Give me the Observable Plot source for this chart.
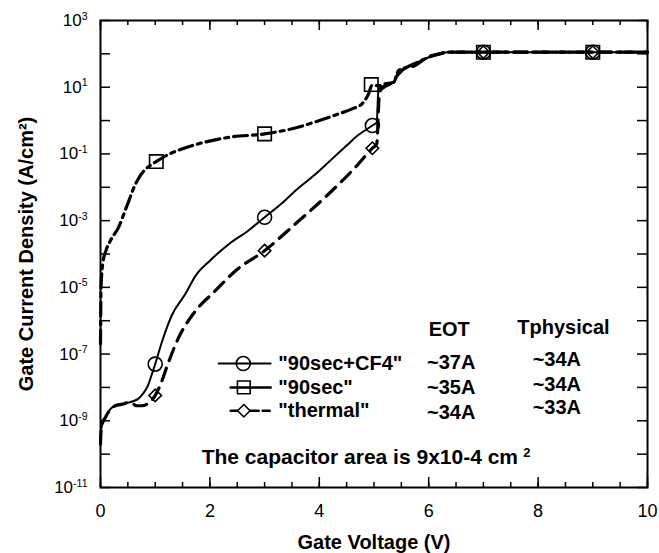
<!DOCTYPE html>
<html><head><meta charset="utf-8">
<script src="https://cdn.jsdelivr.net/npm/d3@7"></script>
<script src="https://cdn.jsdelivr.net/npm/@observablehq/plot@0.6"></script>
<style>
body{margin:0;background:#fff;}
#chart svg{display:block;}
</style></head><body><div id="chart"></div>
<script>
// ---------------- DATA ----------------
const cf4V = [0, 0.01, 0.04, 0.09, 0.18, 0.27, 0.4, 0.52, 0.62, 0.7, 0.78, 0.86, 0.93, 1.0, 1.13, 1.3, 1.55, 1.74, 2.0, 2.35, 2.7, 3.0, 3.3, 3.6, 3.9, 4.2, 4.5, 4.7, 4.97, 5.05, 5.08, 5.12, 5.2, 5.36, 5.45, 5.6, 5.8, 6.0, 6.2, 6.34, 10];
const cf4J = [2.0e-10, 5.0e-10, 8.9e-10, 1.26e-9, 2.24e-9, 2.82e-9, 3.16e-9, 3.55e-9, 3.98e-9, 4.7e-9, 6.6e-9, 1.07e-8, 2.24e-8, 5.0e-8, 2.5e-7, 1.41e-6, 6.3e-6, 2.24e-5, 6.3e-5, 2.0e-4, 5.0e-4, 1.26e-3, 3.16e-3, 8.9e-3, 2.24e-2, 6.3e-2, 0.178, 0.355, 0.71, 0.89, 7.9, 10, 11.2, 14.1, 28, 40, 56, 79, 100, 112, 112];

const sec90V = [0, 0.01, 0.04, 0.1, 0.18, 0.33, 0.45, 0.52, 0.6, 0.7, 0.8, 0.9, 1.02, 1.2, 1.49, 1.9, 2.35, 3.0, 3.56, 4.0, 4.3, 4.6, 4.78, 4.9, 4.96, 5.1, 5.2, 5.36, 5.45, 5.6, 5.8, 6.0, 6.2, 6.34, 10];
const sec90J = [2.0e-7, 1.0e-5, 5.0e-5, 1.26e-4, 2.5e-4, 6.3e-4, 2.0e-3, 4.0e-3, 8.9e-3, 1.9e-2, 3.2e-2, 4.4e-2, 5.9e-2, 8.9e-2, 0.141, 0.224, 0.316, 0.398, 0.60, 1.0, 1.48, 2.24, 3.16, 6.3, 11.2, 11.2, 12.6, 14.1, 31.6, 39.8, 56, 79, 100, 112, 112];

const thermalV = [0, 0.01, 0.04, 0.09, 0.18, 0.27, 0.4, 0.52, 0.6, 0.66, 0.76, 0.85, 0.93, 1.0, 1.1, 1.22, 1.43, 1.74, 2.07, 2.47, 3.0, 3.56, 4.17, 4.66, 4.97, 5.05, 5.1, 5.18, 5.3, 5.4, 5.55, 5.75, 5.97, 6.2, 6.34, 10];
const thermalJ = [2.0e-10, 5.0e-10, 8.9e-10, 1.26e-9, 2.24e-9, 2.82e-9, 3.16e-9, 3.55e-9, 3.16e-9, 2.82e-9, 2.82e-9, 3.16e-9, 3.98e-9, 5.75e-9, 1.26e-8, 4.47e-8, 3.16e-7, 2.0e-6, 7.1e-6, 3.16e-5, 1.26e-4, 7.9e-4, 6.3e-3, 3.98e-2, 0.148, 0.20, 7.1, 10, 12.6, 20, 35.5, 44.7, 79, 100, 112, 112];

const cf4MarkV = [1.0, 3.0, 4.97, 7, 9];
const cf4MarkJ = [5.0e-8, 1.26e-3, 0.71, 112, 112];
const sec90MarkV = [1.02, 3.0, 4.95, 7, 9];
const sec90MarkJ = [5.9e-2, 0.40, 12, 112, 112];
const thermalMarkV = [1.0, 3.0, 4.97, 7, 9];
const thermalMarkJ = [5.75e-9, 1.26e-4, 0.148, 112, 112];

const seriesNames = ['"90sec+CF4"', '"90sec"', '"thermal"'];
const eotLabels = ["~37A", "~35A", "~34A"];
const tphysLabels = ["~34A", "~34A", "~33A"];
const eotHeader = "EOT";
const tphysHeader = "Tphysical";
const areaNote = "The capacitor area is 9x10-4 cm";
const areaNoteSup = "2";

const xMajorTicks = [0, 2, 4, 6, 8, 10];
const xMinorTicks = [0, 0.5, 1, 1.5, 2, 2.5, 3, 3.5, 4, 4.5, 5, 5.5, 6, 6.5, 7, 7.5, 8, 8.5, 9, 9.5, 10];
const yTicks = [1e3, 1e2, 1e1, 1e0, 1e-1, 1e-2, 1e-3, 1e-4, 1e-5, 1e-6, 1e-7, 1e-8, 1e-9, 1e-10, 1e-11];
const yLabelTicks = [1e3, 1e1, 1e-1, 1e-3, 1e-5, 1e-7, 1e-9, 1e-11];
const yExponents = ["3", "1", "-1", "-3", "-5", "-7", "-9", "-11"];

const xTitle = "Gate Voltage (V)";
const yTitle = "Gate Current Density (A/cm\u00B2)";

// ---------------- BUILD ----------------
const rows = (V, J) => V.map((v, i) => ({V: v, J: J[i]}));
const W = 659, H = 553, mL = 100, mR = 12, mT = 20, mB = 66;
const innerW = W - mL - mR, innerH = H - mT - mB;
const font = "'Liberation Sans', Arial, Helvetica, sans-serif";

// legend / annotation layout (in data coordinates)
const legRowJ = [5.2e-8, 1.0e-8, 2.0e-9];
const legLine = [
  [{V: 2.16, J: legRowJ[0]}, {V: 3.11, J: legRowJ[0]}],
  [{V: 2.38, J: legRowJ[1]}, {V: 3.11, J: legRowJ[1]}],
  [{V: 2.38, J: legRowJ[2]}, {V: 3.11, J: legRowJ[2]}]
];
const legText = seriesNames.map((s, i) => ({V: 3.25, J: legRowJ[i], t: s}));
const eotText = [{V: 6.0, J: 5.6e-7, t: eotHeader}, ...eotLabels.map((s, i) => ({V: 5.97, J: [5.7e-8, 1.02e-8, 1.82e-9][i], t: s}))];
const tphText = [{V: 7.62, J: 6.4e-7, t: tphysHeader}, ...tphysLabels.map((s, i) => ({V: 7.9, J: [7.0e-8, 1.25e-8, 2.55e-9][i], t: s}))];

const bold = {fontWeight: "bold", fontSize: 20, fill: "black"};

const plot = Plot.plot({
  width: W, height: H,
  marginLeft: mL, marginRight: mR, marginTop: mT, marginBottom: mB,
  style: {fontFamily: font, background: "white", color: "black", overflow: "visible"},
  x: {domain: [0, 10]},
  y: {type: "log", domain: [1e-11, 1e3]},
  marks: [
    // inward ticks
    Plot.ruleX(xMinorTicks, {x: d => d, insetTop: innerH - 5, stroke: "black", strokeWidth: 1.5}),
    Plot.ruleX(xMajorTicks, {x: d => d, insetTop: innerH - 10, stroke: "black", strokeWidth: 1.5}),
    Plot.ruleX(xMinorTicks, {x: d => d, insetBottom: innerH - 5, stroke: "black", strokeWidth: 1.5}),
    Plot.ruleX(xMajorTicks, {x: d => d, insetBottom: innerH - 10, stroke: "black", strokeWidth: 1.5}),
    Plot.ruleY(yTicks, {y: d => d, insetRight: innerW - 10, stroke: "black", strokeWidth: 1.5}),
    Plot.ruleY(yTicks, {y: d => d, insetLeft: innerW - 10, stroke: "black", strokeWidth: 1.5}),
    // curves
    Plot.line(rows(cf4V, cf4J), {x: "V", y: "J", stroke: "black", strokeWidth: 2, curve: "monotone-x"}),
    Plot.line(rows(sec90V, sec90J), {x: "V", y: "J", stroke: "black", strokeWidth: 3.2, strokeDasharray: "14,5,4,5", curve: "monotone-x"}),
    Plot.line(rows(thermalV, thermalJ), {x: "V", y: "J", stroke: "black", strokeWidth: 3.2, strokeDasharray: "13,8", curve: "monotone-x"}),
    // markers
    Plot.dot(rows(cf4MarkV, cf4MarkJ), {x: "V", y: "J", symbol: "circle", r: 7, stroke: "black", fill: "none", strokeWidth: 1.6}),
    Plot.dot(rows(sec90MarkV, sec90MarkJ), {x: "V", y: "J", symbol: "square", r: 7.6, stroke: "black", fill: "none", strokeWidth: 1.6}),
    Plot.dot(rows(thermalMarkV, thermalMarkJ), {x: "V", y: "J", symbol: "diamond2", r: 5.6, stroke: "black", fill: "none", strokeWidth: 1.6}),
    // frame
    Plot.frame({stroke: "black", strokeWidth: 2}),
    // axes
    Plot.axisX(xMajorTicks, {tickSize: 0, tickPadding: 17, fontSize: 18, label: null, tickFormat: d => String(d)}),
    Plot.axisY(yLabelTicks, {tickSize: 0, tickPadding: 13, fontSize: 17, label: null,
      tickFormat: d => "10^" + yExponents[yLabelTicks.indexOf(d)]}),
    Plot.text([xTitle], {text: d => d, frameAnchor: "bottom", textAnchor: "middle", dy: 55, lineAnchor: "middle", ...bold}),
    Plot.text([yTitle], {text: d => d, frameAnchor: "left", textAnchor: "middle", dx: -74, rotate: -90, lineAnchor: "middle", ...bold}),
    // legend
    Plot.line(legLine[0], {x: "V", y: "J", stroke: "black", strokeWidth: 2}),
    Plot.line(legLine[1], {x: "V", y: "J", stroke: "black", strokeWidth: 2.6}),
    Plot.line(legLine[2], {x: "V", y: "J", stroke: "black", strokeWidth: 2.6, strokeDasharray: "7,13,8,4"}),
    Plot.dot([{V: 2.61, J: legRowJ[0]}], {x: "V", y: "J", symbol: "circle", r: 7, stroke: "black", fill: "none", strokeWidth: 1.6}),
    Plot.dot([{V: 2.62, J: legRowJ[1]}], {x: "V", y: "J", symbol: "square", r: 7.2, stroke: "black", fill: "none", strokeWidth: 1.6}),
    Plot.dot([{V: 2.62, J: legRowJ[2]}], {x: "V", y: "J", symbol: "diamond2", r: 5.6, stroke: "black", fill: "white", strokeWidth: 1.6}),
    Plot.text(legText, {x: "V", y: "J", text: "t", textAnchor: "start", lineAnchor: "middle", ...bold}),
    Plot.text(eotText, {x: "V", y: "J", text: "t", textAnchor: "start", lineAnchor: "middle", ...bold}),
    Plot.text(tphText, {x: "V", y: "J", text: "t", textAnchor: "start", lineAnchor: "middle", ...bold}),
    Plot.text([{V: 1.85, J: 8.1e-11, t: areaNote}], {x: "V", y: "J", text: "t", textAnchor: "start", lineAnchor: "middle", fontWeight: "bold", fontSize: 21, fill: "black"}),
    Plot.text([{V: 7.73, J: 1.06e-10, t: areaNoteSup}], {x: "V", y: "J", text: "t", textAnchor: "start", lineAnchor: "middle", fontWeight: "bold", fontSize: 13, fill: "black"})
  ]
});

// superscript exponents in y tick labels
d3.select(plot).selectAll('[aria-label="y-axis tick label"] text').each(function () {
  const parts = this.textContent.split("^");
  const t = d3.select(this);
  t.text(null);
  t.append("tspan").text(parts[0]);
  t.append("tspan").attr("dy", "-0.6em").attr("font-size", "0.62em").text(parts[1]);
});

document.getElementById("chart").append(plot);
</script>
</body></html>
